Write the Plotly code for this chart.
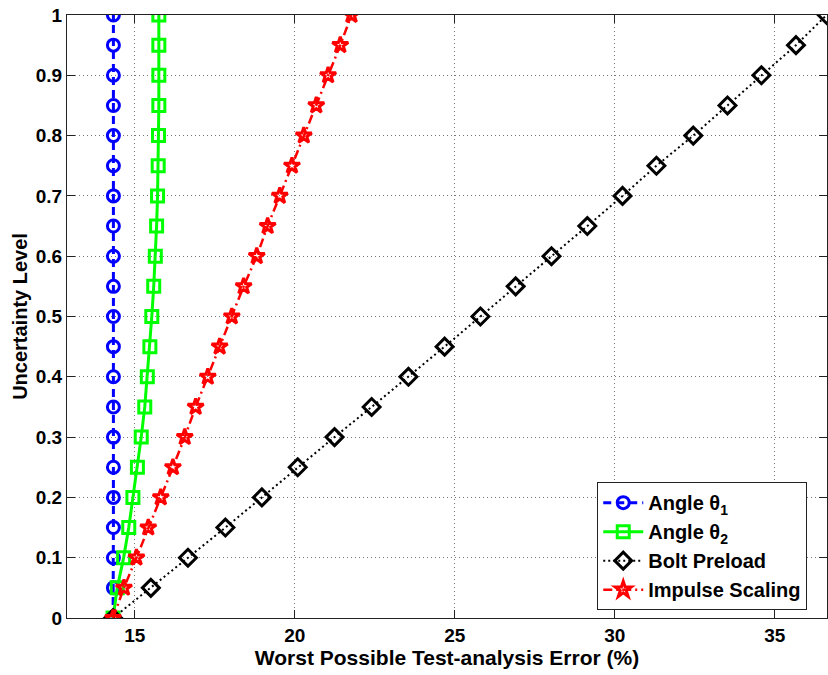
import plotly.graph_objects as go

# Uncertainty levels (y) and worst-case test-analysis error (%) for each parameter
uncertainty = [0.0, 0.05, 0.10, 0.15, 0.20, 0.25, 0.30, 0.35, 0.40, 0.45, 0.50,
               0.55, 0.60, 0.65, 0.70, 0.75, 0.80, 0.85, 0.90, 0.95, 1.0]

angle_theta1 = [14.32, 14.33, 14.33, 14.33, 14.33, 14.33, 14.33, 14.33, 14.33, 14.33, 14.33,
                14.33, 14.33, 14.33, 14.33, 14.33, 14.33, 14.33, 14.33, 14.33, 14.33]
angle_theta2 = [14.32, 14.45, 14.65, 14.81, 14.94, 15.08, 15.20, 15.31, 15.39, 15.47, 15.53,
                15.59, 15.64, 15.68, 15.71, 15.73, 15.74, 15.75, 15.75, 15.75, 15.75]
bolt_preload = [14.32, 15.50, 16.66, 17.83, 18.97, 20.09, 21.24, 22.40, 23.55, 24.68, 25.80,
                26.90, 28.02, 29.14, 30.24, 31.30, 32.45, 33.52, 34.58, 35.66, 36.62]
impulse_scaling = [14.32, 14.66, 15.05, 15.42, 15.81, 16.19, 16.56, 16.90, 17.28, 17.65, 18.03,
                   18.40, 18.81, 19.15, 19.53, 19.91, 20.28, 20.67, 21.04, 21.42, 21.77]

x_ticks = [15, 20, 25, 30, 35]
x_tick_text = ["15", "20", "25", "30", "35"]
y_ticks = [0, 0.1, 0.2, 0.3, 0.4, 0.5, 0.6, 0.7, 0.8, 0.9, 1]
y_tick_text = ["0", "0.1", "0.2", "0.3", "0.4", "0.5", "0.6", "0.7", "0.8", "0.9", "1"]

FONT = "Liberation Sans, Arial, Helvetica, sans-serif"


def bold(items):
    return ["<b>%s</b>" % s for s in items]


fig = go.Figure()

fig.add_trace(go.Scatter(
    x=angle_theta1, y=uncertainty, mode="lines+markers", name="<b>Angle θ<sub>1</sub></b>",
    line=dict(color="#0000FF", width=3, dash="8px,5px"),
    marker=dict(symbol="circle-open", size=12, color="#0000FF", line=dict(width=3)),
))
fig.add_trace(go.Scatter(
    x=angle_theta2, y=uncertainty, mode="lines+markers", name="<b>Angle θ<sub>2</sub></b>",
    line=dict(color="#00FF00", width=3),
    marker=dict(symbol="square-open", size=12, color="#00FF00", line=dict(width=3)),
))
fig.add_trace(go.Scatter(
    x=bolt_preload, y=uncertainty, mode="lines+markers", name="<b>Bolt Preload</b>",
    line=dict(color="#000000", width=2, dash="2px,3px"),
    marker=dict(symbol="diamond-open", size=13, color="#000000", line=dict(width=3)),
))
fig.add_trace(go.Scatter(
    x=impulse_scaling, y=uncertainty, mode="lines+markers", name="<b>Impulse Scaling</b>",
    line=dict(color="#FF0000", width=2.5, dash="9px,4px,2px,4px"),
    marker=dict(symbol="star-open", size=12, color="#FF0000", line=dict(width=3)),
))

axis_common = dict(
    showline=True, linecolor="#222222", linewidth=1, mirror="ticks",
    ticks="inside", ticklen=8, tickwidth=1, tickcolor="#222222",
    showgrid=True, gridcolor="#777777", gridwidth=1, griddash="1px,3px",
    zeroline=False,
    tickfont=dict(family=FONT, size=19, color="#000000"),
)

fig.update_xaxes(
    range=[12.88, 36.63], tickvals=x_ticks, ticktext=bold(x_tick_text), **axis_common,
    title=dict(text="<b>Worst Possible Test-analysis Error (%)</b>", standoff=2,
               font=dict(family=FONT, size=21, color="#000000")),
)
fig.update_yaxes(
    range=[0, 1], tickvals=y_ticks, ticktext=bold(y_tick_text), **axis_common,
    title=dict(text="<b>Uncertainty Level</b>", standoff=2,
               font=dict(family=FONT, size=20, color="#000000")),
)

fig.update_layout(
    width=828, height=675,
    margin=dict(l=67, r=1, t=15, b=57),
    paper_bgcolor="white", plot_bgcolor="white",
    font=dict(family=FONT, color="#000000"),
    legend=dict(
        x=0.974, y=0.013, xanchor="right", yanchor="bottom",
        bgcolor="white", bordercolor="#222222", borderwidth=1,
        font=dict(family=FONT, size=20, color="#000000"),
        tracegroupgap=0, itemwidth=40,
    ),
)

fig.write_html("out.html")
